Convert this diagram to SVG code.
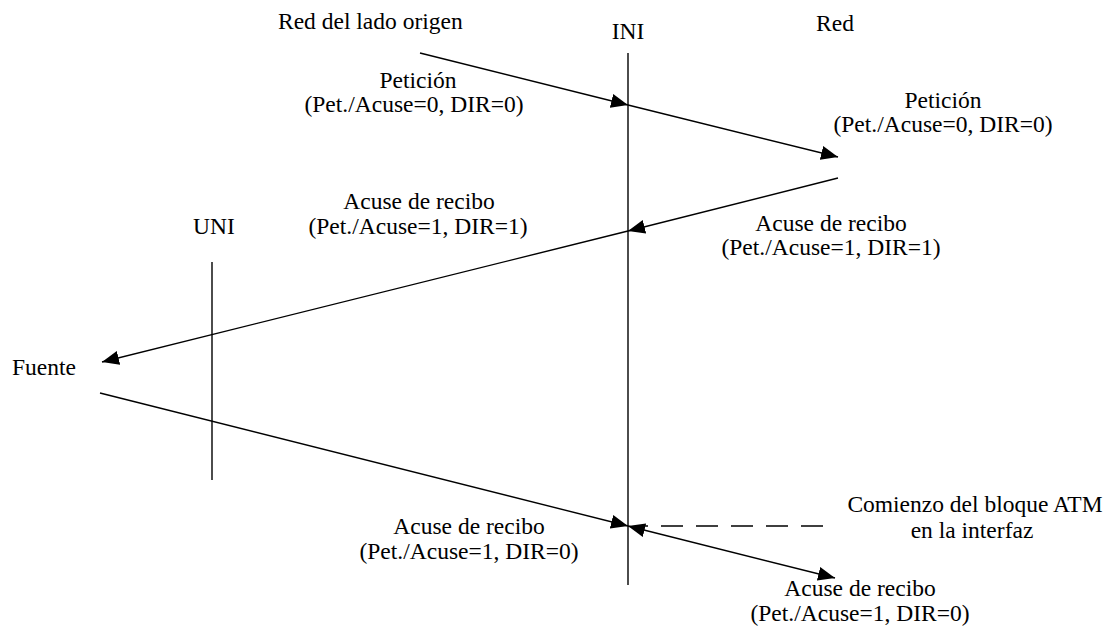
<svg xmlns="http://www.w3.org/2000/svg" width="1110" height="635" viewBox="0 0 1110 635">
<defs>
<marker id="ah" markerUnits="userSpaceOnUse" viewBox="0 0 17 14" markerWidth="17" markerHeight="14" refX="17" refY="7" orient="auto-start-reverse">
<path d="M0,0 L17,7 L0,14 z" fill="#000"/>
</marker>
<style>
.t{font-family:'Liberation Serif','Times New Roman',Tinos,'DejaVu Serif',serif;font-size:23.5px;fill:#000;}
.c{text-anchor:middle;}
.ln{stroke:#000;stroke-width:1.4;fill:none;}
.ar{marker-end:url(#ah);}
.dash{stroke-dasharray:22 13;}
</style>
</defs>
<rect width="1110" height="635" fill="#fff"/>
<g id="lifelines">
<line class="ln" x1="628" y1="53" x2="628" y2="585"/>
<line class="ln" x1="212" y1="262" x2="212" y2="480"/>
</g>
<g id="connectors">
<line class="ln ar" x1="420" y1="53" x2="628" y2="105"/>
<line class="ln ar" x1="628" y1="105" x2="838" y2="157"/>
<line class="ln ar" x1="838" y1="178" x2="628" y2="231"/>
<line class="ln ar" x1="628" y1="231" x2="102" y2="362"/>
<line class="ln ar" x1="100" y1="393" x2="628" y2="526"/>
<line class="ln ar" x1="628" y1="526" x2="835" y2="578" style="marker-start:url(#ah)"/>
<line class="ln dash" x1="823" y1="526" x2="640" y2="526"/>
</g>
<g id="labels" class="t" font-family="Liberation Serif, Times New Roman, serif">
<text class="t" x="278" y="29">Red del lado origen</text>
<text class="t c" x="628" y="39">INI</text>
<text class="t c" x="835" y="31">Red</text>
<text class="t c" x="418" y="88">Petición</text>
<text class="t c" x="414" y="112">(Pet./Acuse=0, DIR=0)</text>
<text class="t c" x="943" y="108">Petición</text>
<text class="t c" x="943" y="132">(Pet./Acuse=0, DIR=0)</text>
<text class="t c" x="419" y="209">Acuse de recibo</text>
<text class="t c" x="418" y="234">(Pet./Acuse=1, DIR=1)</text>
<text class="t c" x="214" y="234">UNI</text>
<text class="t c" x="831" y="231">Acuse de recibo</text>
<text class="t c" x="831" y="255">(Pet./Acuse=1, DIR=1)</text>
<text class="t" x="12" y="375">Fuente</text>
<text class="t c" x="469" y="534">Acuse de recibo</text>
<text class="t c" x="469" y="559">(Pet./Acuse=1, DIR=0)</text>
<text class="t c" x="975" y="512">Comienzo del bloque ATM</text>
<text class="t c" x="972" y="538">en la interfaz</text>
<text class="t c" x="860" y="596">Acuse de recibo</text>
<text class="t c" x="860" y="621">(Pet./Acuse=1, DIR=0)</text>
</g>
</svg>
